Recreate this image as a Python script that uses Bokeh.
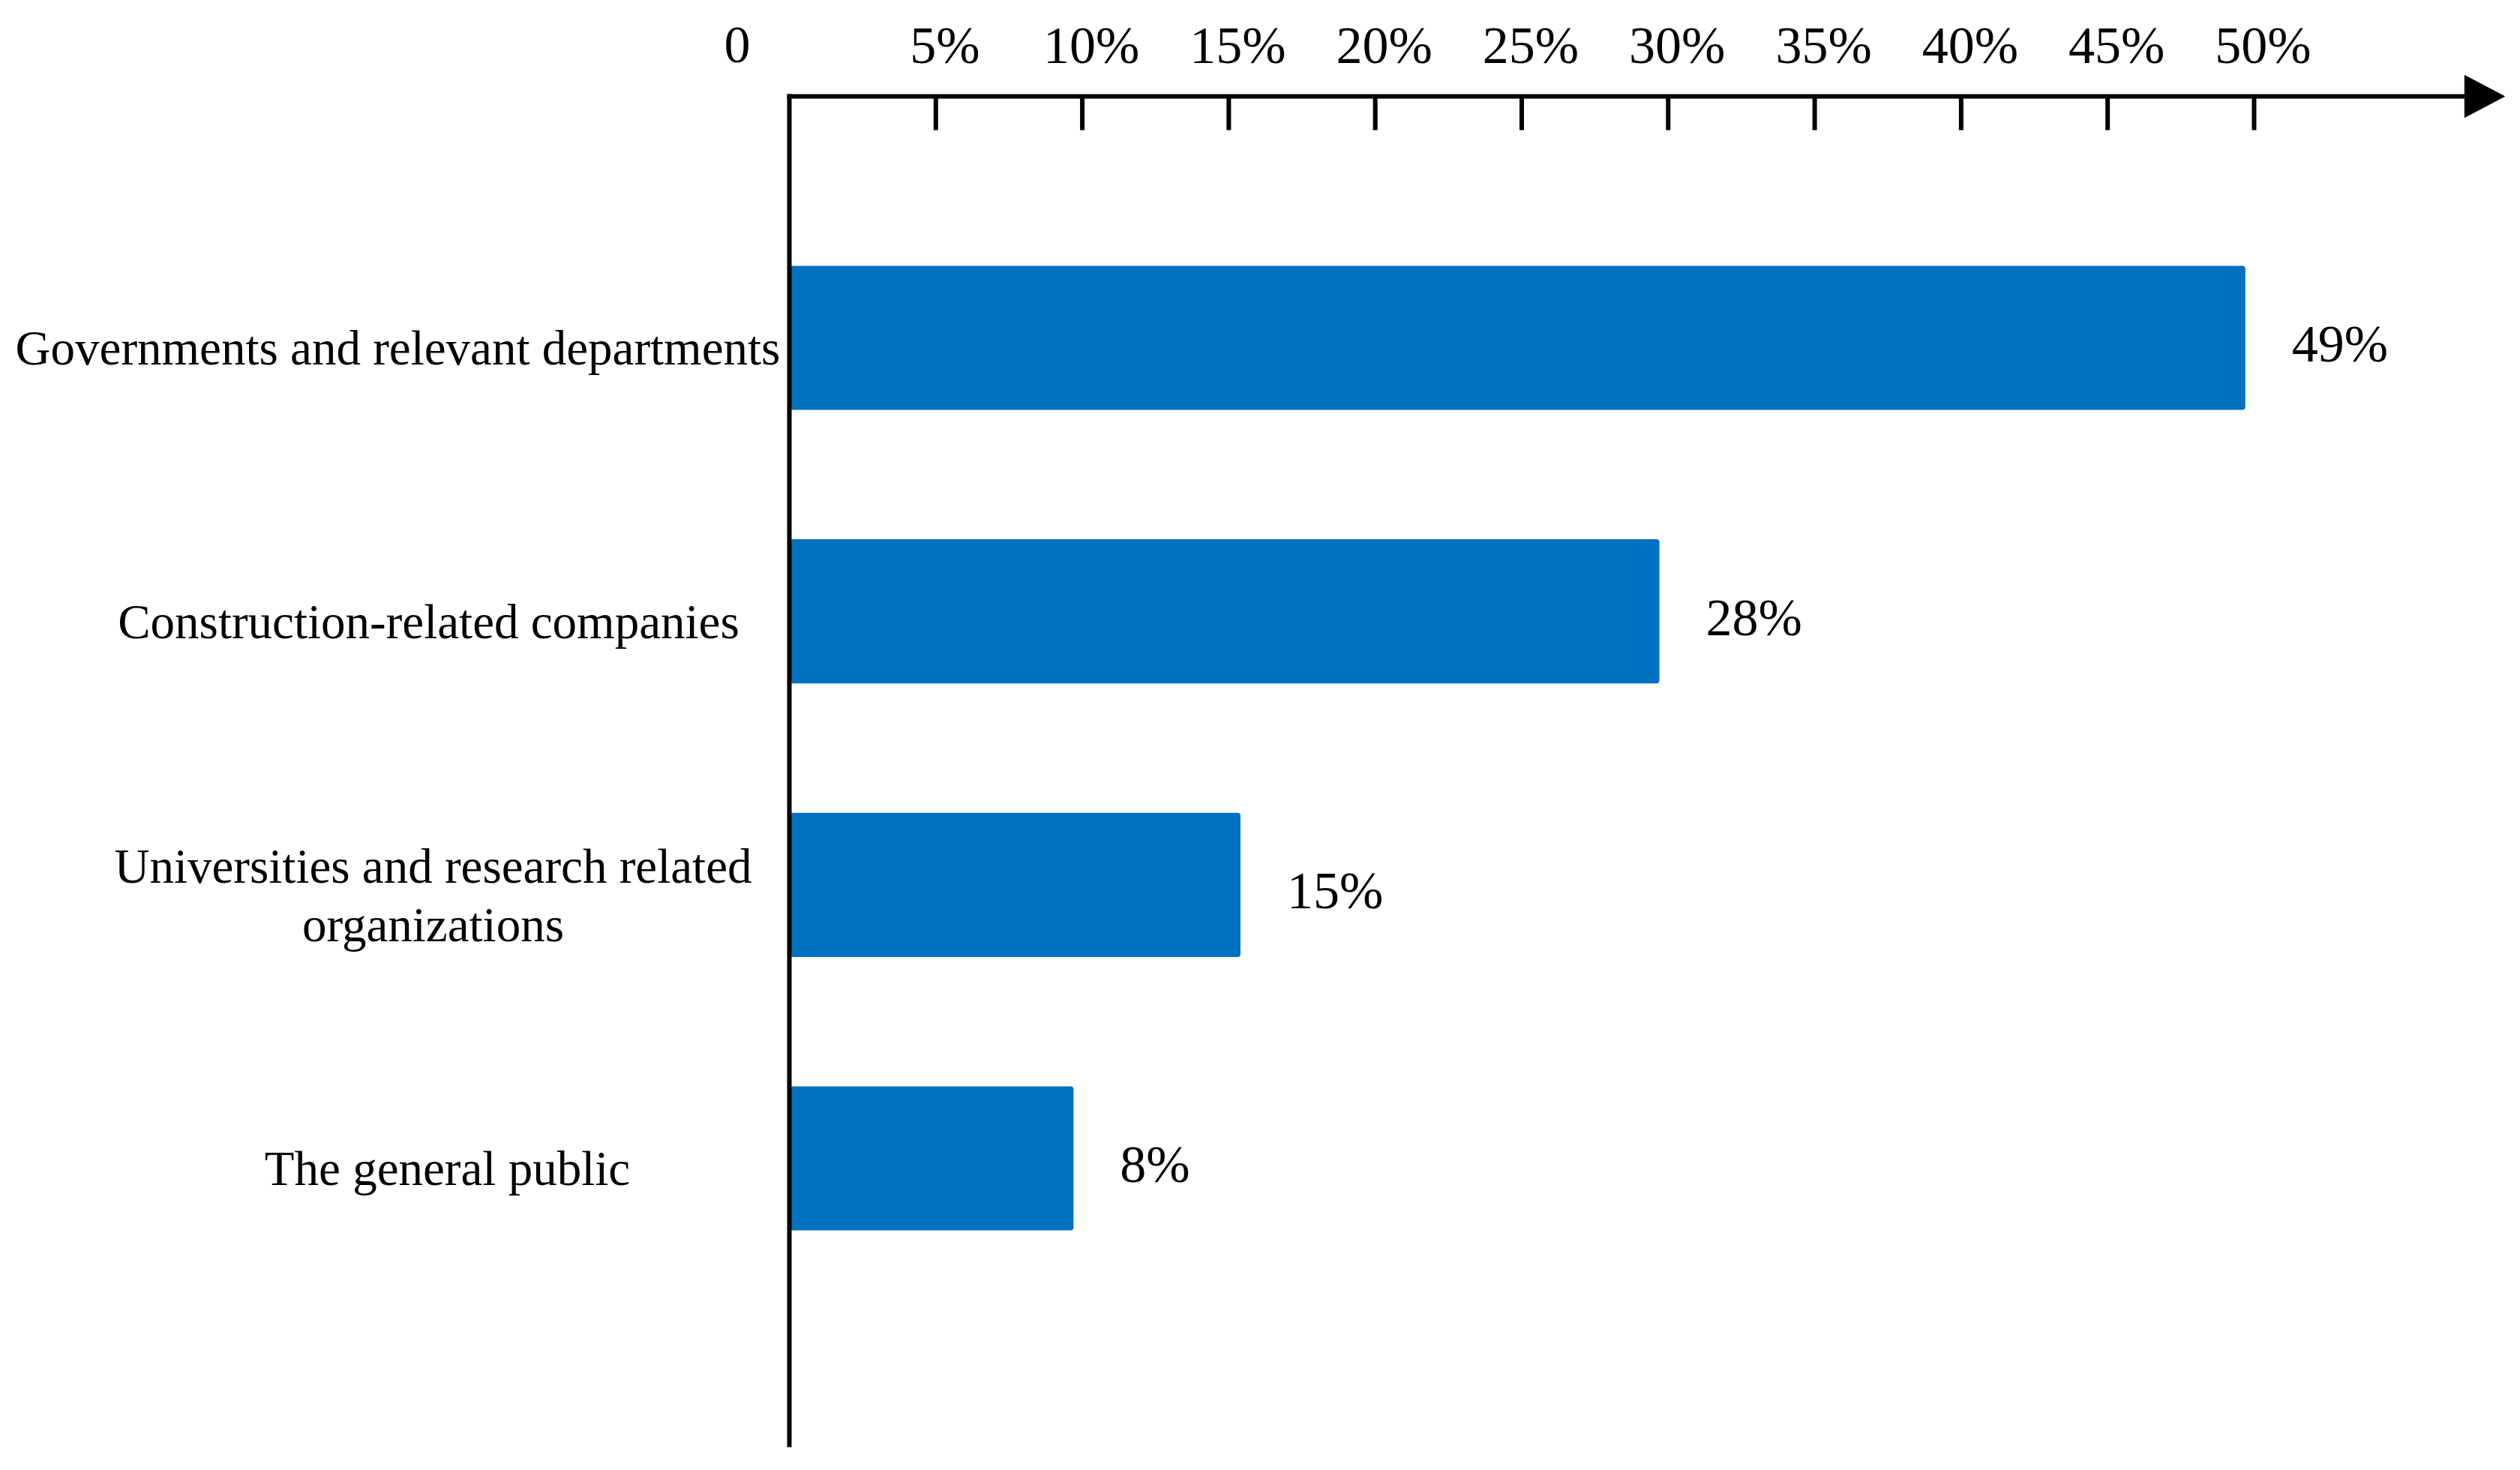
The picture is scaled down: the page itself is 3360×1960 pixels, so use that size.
from bokeh.plotting import figure
from bokeh.models import Range1d, ColumnDataSource
from bokeh.embed import file_html
from bokeh.resources import INLINE
from bokeh.core.properties import value

# ---- data ----
categories = [
    "Governments and relevant departments",
    "Construction-related companies",
    "Universities and research related\norganizations",
    "The general public",
]
bar_values = [49.7, 29.7, 15.4, 9.7]          # bar lengths as drawn (%)
value_labels = ["49%", "28%", "15%", "8%"]     # printed value labels
positions = [1, 2, 3, 4]
tick_vals = [5, 10, 15, 20, 25, 30, 35, 40, 45, 50]
tick_labels = ["5%", "10%", "15%", "20%", "25%", "30%", "35%", "40%", "45%", "50%"]

# ---- styles / layout ----
FONT = "Liberation Serif"
BAR_COLOR = "#0070C0"
AXIS_W = 6
cat_offsets = [-522, -481, -475, -456]   # px from the vertical axis to label centre

X_START, X_END = -26.933, 58.68          # frame covers the whole canvas
Y_BOTTOM, Y_TOP = 5.0969, -0.234
AX_Y = 0.117          # level of the horizontal axis
AX_Y_END = 5.0475     # lower end of the vertical axis
ARROW_BASE, ARROW_TIP = 57.19, 58.55
HEAD_HALF = 0.0768    # half height of the arrow head (y units)
TICK_LEN = 0.1234

source = ColumnDataSource(dict(
    cat=categories, val=bar_values, lab=value_labels, pos=positions,
    zero=[0] * len(categories), cx=cat_offsets,
))
tick_src = ColumnDataSource(dict(
    x=tick_vals, lab=tick_labels,
    y0=[AX_Y] * len(tick_vals), y1=[AX_Y + TICK_LEN] * len(tick_vals),
))

p = figure(width=3344, height=1944,
           x_range=Range1d(X_START, X_END), y_range=Range1d(Y_BOTTOM, Y_TOP),
           output_backend="svg", toolbar_location=None,
           min_border=0, min_border_left=0, min_border_right=0,
           min_border_top=0, min_border_bottom=0)
p.background_fill_color = "white"
p.border_fill_color = "white"
p.outline_line_color = None
p.xaxis.visible = False
p.yaxis.visible = False
p.xgrid.visible = False
p.ygrid.visible = False

# bars
p.hbar(y="pos", left=0, right="val", height=0.527, source=source,
       fill_color=BAR_COLOR, line_color=None, border_radius=4)

# value labels
p.text(x="val", y="pos", text="lab", source=source,
       x_offset=62, y_offset=8,
       text_font=value(FONT), text_font_size="70px", text_color="black",
       text_align="left", text_baseline="middle")

# category labels
p.text(x="zero", y="pos", text="cat", source=source,
       x_offset="cx", y_offset=14,
       text_font=value(FONT), text_font_size="65px", text_color="black",
       text_align="center", text_baseline="middle", text_line_height=1.08)

# vertical axis
p.segment(x0=[0], y0=[AX_Y], x1=[0], y1=[AX_Y_END],
          line_width=AXIS_W, line_color="black", line_cap="square")
# horizontal axis with arrow head
p.segment(x0=[0], y0=[AX_Y], x1=[ARROW_BASE + 0.2], y1=[AX_Y],
          line_width=AXIS_W, line_color="black", line_cap="square")
p.patch(x=[ARROW_BASE, ARROW_TIP, ARROW_BASE],
        y=[AX_Y - HEAD_HALF, AX_Y, AX_Y + HEAD_HALF],
        fill_color="black", line_color="black", line_width=1)

# ticks and tick labels
p.segment(x0="x", y0="y0", x1="x", y1="y1", source=tick_src,
          line_width=AXIS_W, line_color="black")
p.text(x="x", y="y0", text="lab", source=tick_src,
       x_offset=12, y_offset=-68,
       text_font=value(FONT), text_font_size="70px", text_color="black",
       text_align="center", text_baseline="middle")
p.text(x=[0], y=[AX_Y], text=["0"], x_offset=-52, y_offset=-68,
       text_font=value(FONT), text_font_size="70px", text_color="black",
       text_align="right", text_baseline="middle")

open("out.html", "w").write(file_html(p, INLINE))
